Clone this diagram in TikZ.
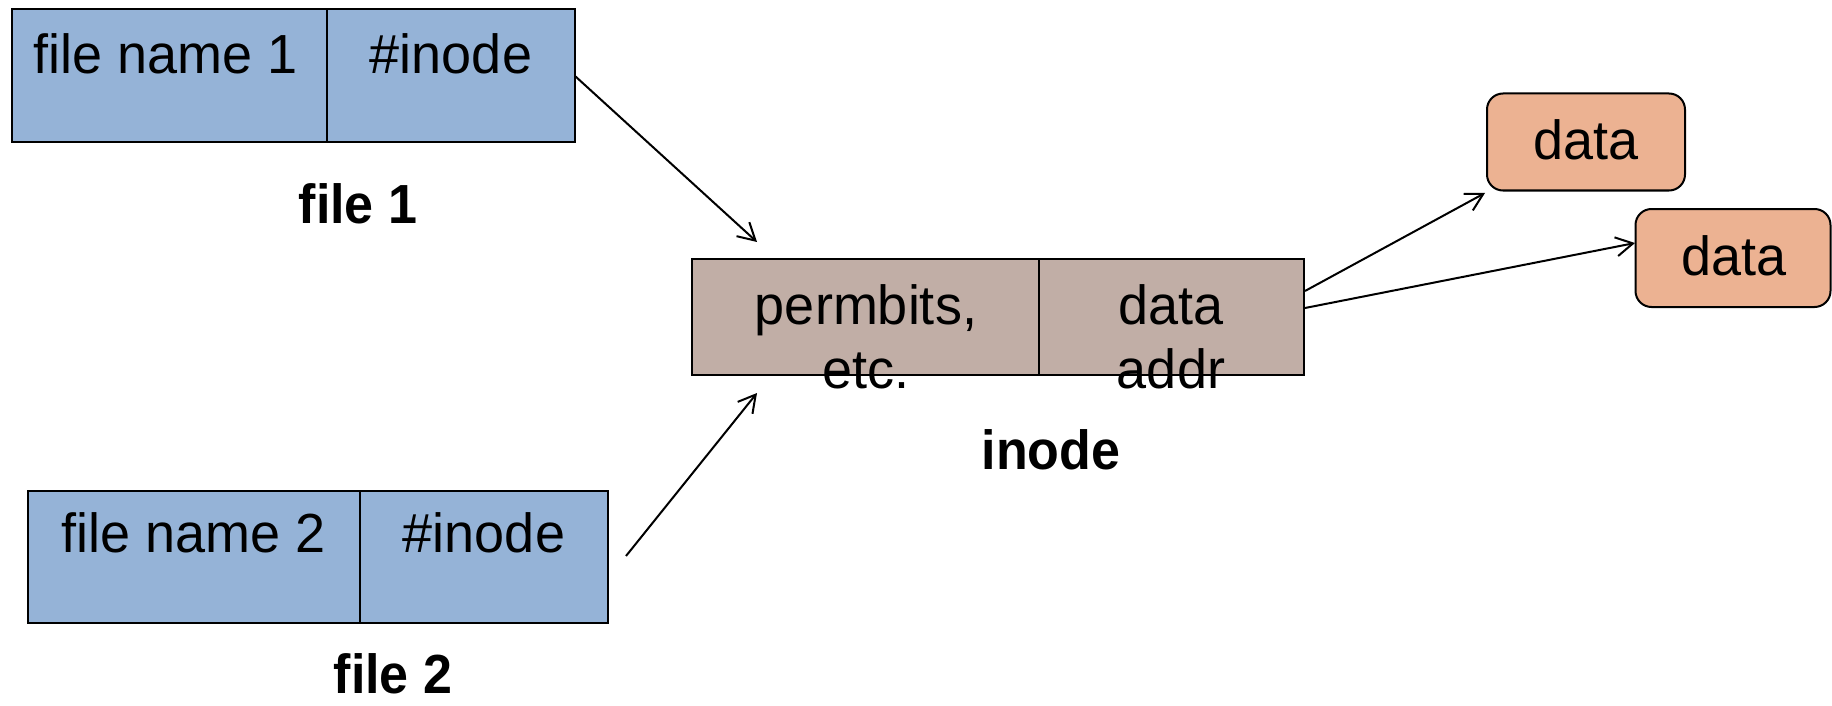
\documentclass[tikz,border=0pt]{standalone}
\usepackage{fontspec}
\setmainfont{Liberation Sans}
\usetikzlibrary{arrows.meta}
\definecolor{fblue}{RGB}{149,179,215}
\definecolor{ibrown}{RGB}{193,174,166}
\definecolor{dorange}{RGB}{236,178,146}
\newcommand\rtx[1]{\scalebox{1}[1.02]{#1}}
\newcommand\btx[1]{\scalebox{1}[1.06]{\bfseries #1}}
\begin{document}
\begin{tikzpicture}[x=1pt,y=-1pt,
  cell/.style={draw=black,line width=2pt,inner sep=0pt,outer sep=0pt},
  fcell/.style={cell,fill=fblue},
  icell/.style={cell,fill=ibrown},
  dbox/.style={draw=black,line width=2pt,fill=dorange,rounded corners=16pt,inner sep=0pt,outer sep=0pt},
  txt/.style={anchor=base,inner sep=0pt,font=\fontsize{54}{64}\selectfont},
  btxt/.style={anchor=base,inner sep=0pt,font=\fontsize{52}{62}\selectfont},
  conn/.style={line width=2pt,-{Straight Barb[length=17pt,width=19pt,line width=2pt]}}]
\useasboundingbox (0,0) rectangle (1832,706);
% file 1
\node[fcell,minimum width=315pt,minimum height=133pt] (f1a) at (169.5,76) {};
\node[fcell,minimum width=248pt,minimum height=133pt] (f1b) at (451,76) {};
\node[txt] (f1at) at (166,74) {\rtx{file name 1}};
\node[txt] (f1bt) at (451,74) {\rtx{\#inode}};
\node[btxt] (f1l) at (358,223) {\btx{file 1}};
% file 2
\node[fcell,minimum width=332pt,minimum height=132pt] (f2a) at (194,557) {};
\node[fcell,minimum width=248pt,minimum height=132pt] (f2b) at (484,557) {};
\node[txt] (f2at) at (194,552) {\rtx{file name 2}};
\node[txt] (f2bt) at (484,552) {\rtx{\#inode}};
\node[btxt] (f2l) at (393,693) {\btx{file 2}};
% inode
\node[icell,minimum width=347pt,minimum height=116pt] (ia) at (865,316.5) {};
\node[icell,minimum width=265pt,minimum height=116pt] (ib) at (1171.5,316.5) {};
\node[txt] (iat1) at (866,324) {\rtx{permbits,}};
\node[txt] (iat2) at (866,388) {\rtx{etc.}};
\node[txt] (ibt1) at (1171,324) {\rtx{data}};
\node[txt] (ibt2) at (1171,388) {\rtx{addr}};
\node[btxt] (il) at (1051,469) {\btx{inode}};
% data blocks
\node[dbox,minimum width=198pt,minimum height=97pt] (d1) at (1586,142) {};
\node[txt] (d1t) at (1586,160) {\rtx{data}};
\node[dbox,minimum width=195pt,minimum height=98pt] (d2) at (1733,258) {};
\node[txt] (d2t) at (1734,275) {\rtx{data}};
% connector ends
\coordinate (e1) at (757,242);
\coordinate (s2) at (626,556);
\coordinate (e2) at (757,393);
\coordinate (s3) at (1305,291);
\coordinate (e3) at (1485,193);
\coordinate (s4) at (1305,308);
\coordinate (e4) at (1635,243);
\draw[conn] (f1b.east) -- (e1);
\draw[conn] (s2) -- (e2);
\draw[conn] (s3) -- (e3);
\draw[conn] (s4) -- (e4);
\end{tikzpicture}
\end{document}
